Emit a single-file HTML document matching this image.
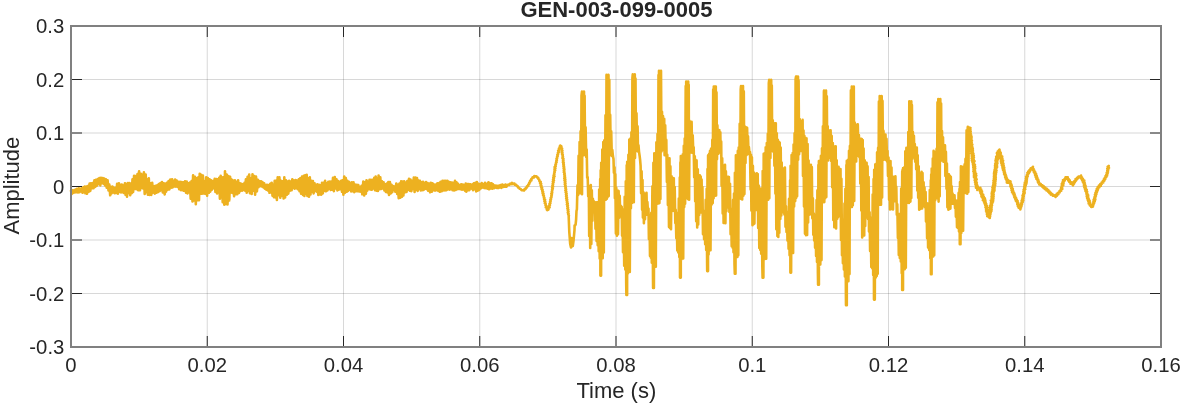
<!DOCTYPE html>
<html><head><meta charset="utf-8"><title>GEN-003-099-0005</title>
<style>html,body{margin:0;padding:0;background:#fff}body{width:1182px;height:404px;overflow:hidden}</style></head>
<body>
<svg width="1182" height="404" viewBox="0 0 1182 404" style="display:block">
<rect x="0" y="0" width="1182" height="404" fill="#fff"/>
<path d="M207.25 26 V347 M343.50 26 V347 M479.75 26 V347 M616.00 26 V347 M752.25 26 V347 M888.50 26 V347 M1024.75 26 V347" stroke="#262626" stroke-opacity="0.18" stroke-width="1" fill="none"/>
<path d="M71 79.50 H1161 M71 133.00 H1161 M71 186.50 H1161 M71 240.00 H1161 M71 293.50 H1161" stroke="#262626" stroke-opacity="0.18" stroke-width="1" fill="none"/>
<path d="M71.0 190.8 L71.7 193.9 L72.4 190.2 L73.1 192.9 L73.9 190.4 L74.7 192.5 L75.4 189.6 L76.3 192.2 L77.0 188.9 L77.9 192.4 L78.7 188.3 L79.4 192.3 L80.1 188.7 L80.8 191.5 L81.7 188.3 L82.5 192.7 L83.3 187.3 L83.9 192.2 L84.7 186.6 L85.4 193.3 L86.3 186.6 L87.0 193.8 L87.9 186.0 L88.7 191.8 L89.6 183.6 L90.3 191.0 L91.0 183.4 L91.9 188.3 L92.7 183.1 L93.5 188.3 L94.4 180.4 L95.1 186.9 L95.9 179.7 L96.7 185.9 L97.7 179.1 L98.5 184.1 L99.4 178.0 L100.3 185.4 L101.0 177.9 L101.9 183.3 L102.7 178.0 L103.4 183.7 L104.2 178.6 L105.0 185.4 L105.9 179.2 L106.7 187.7 L107.6 180.3 L108.5 190.5 L109.3 184.5 L110.2 195.3 L110.9 187.1 L111.6 193.4 L112.4 186.6 L113.1 192.4 L113.9 187.7 L114.7 193.3 L115.6 187.8 L116.4 193.0 L117.1 183.9 L118.0 193.7 L118.9 183.2 L119.6 191.8 L120.5 185.0 L121.1 192.5 L121.8 184.5 L122.5 192.1 L123.2 185.5 L123.9 193.0 L124.9 183.3 L125.6 194.8 L126.3 184.0 L127.0 196.7 L127.9 183.0 L128.7 192.9 L129.4 183.0 L130.2 195.1 L130.8 183.9 L131.8 193.1 L132.5 179.3 L133.1 191.9 L134.1 175.7 L134.9 188.9 L135.7 176.1 L136.6 189.1 L137.5 174.1 L138.2 190.3 L139.1 171.3 L140.0 190.3 L140.9 173.8 L141.7 188.0 L142.4 174.7 L143.1 188.5 L143.9 172.4 L144.7 193.9 L145.7 174.6 L146.4 192.3 L147.2 179.5 L147.9 194.8 L148.8 178.3 L149.6 195.0 L150.5 183.4 L151.3 195.0 L152.2 182.8 L153.0 192.6 L153.9 186.3 L154.8 193.6 L155.5 185.9 L156.5 192.7 L157.2 185.3 L157.9 192.1 L158.8 184.0 L159.7 191.2 L160.5 183.0 L161.3 190.3 L162.0 182.0 L162.8 192.5 L163.8 183.4 L164.7 194.5 L165.4 183.9 L166.1 191.6 L166.9 182.7 L167.7 189.7 L168.6 181.1 L169.4 189.5 L170.3 179.6 L171.3 187.7 L172.1 179.2 L172.7 187.4 L173.4 181.0 L174.3 186.5 L175.1 179.6 L175.9 186.7 L176.7 180.6 L177.6 186.9 L178.5 181.9 L179.2 189.2 L180.0 181.7 L180.9 190.1 L181.6 182.0 L182.4 190.2 L183.3 182.3 L184.1 190.8 L185.0 181.3 L186.0 192.6 L186.7 181.6 L187.6 193.4 L188.3 183.2 L189.1 192.3 L189.8 182.6 L190.7 198.6 L191.6 181.1 L192.5 201.5 L193.1 175.2 L194.1 200.4 L195.0 176.9 L195.8 204.1 L196.7 178.3 L197.5 200.1 L198.3 177.3 L199.0 200.2 L199.7 173.9 L200.4 193.6 L201.2 174.7 L202.0 193.6 L202.9 175.5 L203.9 193.5 L204.6 181.5 L205.5 193.8 L206.2 177.4 L207.1 195.6 L207.8 178.0 L208.8 192.8 L209.6 179.4 L210.3 191.7 L211.1 180.3 L212.0 189.6 L212.9 181.0 L213.8 188.3 L214.7 178.9 L215.4 191.9 L216.4 179.0 L217.1 193.5 L217.8 179.4 L218.5 192.1 L219.2 177.7 L219.9 198.6 L220.7 175.7 L221.4 197.3 L222.0 177.3 L222.7 202.3 L223.5 177.4 L224.3 204.7 L225.0 171.2 L225.8 204.0 L226.7 174.5 L227.5 204.5 L228.4 176.1 L229.3 200.4 L230.1 176.7 L230.9 192.4 L231.6 179.6 L232.5 192.9 L233.2 180.5 L234.1 196.3 L234.9 180.4 L235.6 194.3 L236.4 182.0 L237.2 194.3 L238.1 180.2 L239.0 192.9 L239.9 183.3 L240.7 190.9 L241.4 183.7 L242.2 190.6 L243.0 184.3 L243.8 190.0 L244.5 182.8 L245.2 190.7 L245.9 179.3 L246.7 192.6 L247.6 176.7 L248.5 190.9 L249.2 174.5 L249.9 193.3 L250.8 178.2 L251.7 194.0 L252.5 174.3 L253.4 190.7 L254.2 176.0 L255.1 194.6 L256.0 176.5 L256.9 191.5 L257.8 179.7 L258.4 187.3 L259.2 181.0 L260.1 186.1 L260.9 181.3 L261.8 186.4 L262.4 182.0 L263.3 187.4 L264.1 183.2 L264.8 188.7 L265.5 185.0 L266.2 189.6 L267.0 184.9 L267.9 190.5 L268.7 185.0 L269.5 192.8 L270.3 183.9 L271.0 192.5 L271.7 182.9 L272.5 195.6 L273.1 185.0 L273.9 197.1 L274.7 180.7 L275.5 197.5 L276.3 180.5 L276.9 200.0 L277.7 177.4 L278.6 195.3 L279.4 177.3 L280.3 197.8 L281.0 180.9 L282.0 195.7 L282.8 181.3 L283.6 198.5 L284.3 177.3 L285.1 197.5 L286.0 180.4 L286.9 194.8 L287.5 181.5 L288.3 193.6 L289.1 180.8 L289.8 191.0 L290.7 181.5 L291.6 190.3 L292.3 179.4 L293.2 188.0 L293.9 180.6 L294.7 188.7 L295.5 180.0 L296.3 188.3 L296.9 180.5 L297.8 189.2 L298.8 179.4 L299.5 191.2 L300.2 178.3 L301.1 193.6 L302.0 176.6 L303.0 194.9 L303.8 175.7 L304.4 195.9 L305.2 175.2 L306.1 194.1 L306.7 174.8 L307.4 196.0 L308.2 178.4 L309.0 196.6 L309.8 177.3 L310.5 194.4 L311.3 180.9 L312.0 191.8 L312.9 181.1 L313.6 193.4 L314.6 183.3 L315.3 190.9 L315.9 185.2 L316.6 191.6 L317.3 184.4 L318.3 195.0 L319.0 184.7 L319.8 194.5 L320.6 185.3 L321.3 194.7 L322.0 182.9 L322.8 193.4 L323.6 182.9 L324.3 191.0 L325.1 180.9 L326.0 191.3 L326.6 183.2 L327.5 190.5 L328.3 181.8 L328.9 188.9 L329.9 181.5 L330.8 190.0 L331.5 181.6 L332.2 189.8 L333.0 177.8 L333.9 191.1 L334.8 177.1 L335.6 188.4 L336.5 179.3 L337.4 190.4 L338.2 181.0 L338.9 189.7 L339.7 182.1 L340.4 189.3 L341.2 180.9 L342.0 191.8 L342.6 180.3 L343.4 194.7 L344.2 176.6 L345.0 192.8 L345.8 178.0 L346.6 191.8 L347.3 180.8 L348.1 190.9 L348.9 181.9 L349.8 189.8 L350.4 183.1 L351.2 191.4 L351.9 182.2 L352.8 191.1 L353.5 182.4 L354.3 192.1 L355.0 184.5 L355.9 191.1 L356.8 184.7 L357.5 191.3 L358.3 185.1 L359.2 191.5 L360.0 187.0 L360.9 191.8 L361.6 185.9 L362.3 194.3 L363.3 181.5 L364.2 195.4 L365.0 182.4 L365.9 193.7 L366.5 180.2 L367.3 190.7 L368.1 181.9 L368.7 189.0 L369.5 179.9 L370.2 189.5 L370.9 179.9 L371.8 189.8 L372.5 179.7 L373.3 188.5 L374.3 177.7 L375.0 190.3 L375.7 176.5 L376.6 190.7 L377.2 178.5 L377.9 190.9 L378.6 175.5 L379.6 189.3 L380.3 177.3 L381.1 189.0 L382.0 181.3 L382.7 188.4 L383.6 182.3 L384.4 190.4 L385.1 184.3 L385.9 191.9 L386.8 183.6 L387.5 192.4 L388.3 182.0 L389.0 195.0 L389.9 182.0 L390.8 193.5 L391.5 184.9 L392.3 192.1 L393.0 186.1 L393.9 189.7 L394.5 186.6 L395.3 191.7 L396.3 183.5 L397.2 194.0 L397.9 184.9 L398.7 198.2 L399.5 183.6 L400.3 197.6 L401.1 181.2 L402.0 196.8 L402.7 181.5 L403.4 195.5 L404.2 181.3 L404.9 192.5 L405.6 182.9 L406.6 192.0 L407.3 181.0 L408.3 189.8 L409.0 178.9 L409.8 190.6 L410.5 179.5 L411.4 191.1 L412.3 180.8 L413.1 189.0 L413.8 177.5 L414.6 192.0 L415.4 177.5 L416.1 189.7 L417.0 178.1 L417.7 190.9 L418.5 180.6 L419.3 189.0 L420.0 180.9 L420.8 190.5 L421.5 182.3 L422.3 190.1 L423.0 181.9 L423.7 189.9 L424.5 183.1 L425.2 188.7 L426.0 182.1 L426.7 189.2 L427.6 183.0 L428.3 190.8 L429.2 183.7 L430.1 192.3 L430.8 182.7 L431.8 191.8 L432.5 183.3 L433.2 190.3 L434.1 184.6 L435.0 190.6 L435.9 184.6 L436.6 190.1 L437.4 183.2 L438.4 191.0 L439.2 183.1 L440.0 191.8 L440.7 181.7 L441.7 191.3 L442.5 180.8 L443.4 190.5 L444.1 180.8 L445.0 190.4 L445.7 180.8 L446.5 190.1 L447.3 180.8 L448.0 189.4 L448.7 181.7 L449.6 189.7 L450.3 182.2 L451.1 189.3 L451.9 182.5 L452.6 190.1 L453.5 182.8 L454.3 190.5 L455.0 180.9 L455.7 190.0 L456.5 182.3 L457.2 189.3 L458.1 183.8 L458.9 189.0 L459.7 185.5 L460.5 189.2 L461.2 184.2 L462.1 189.7 L462.8 184.5 L463.5 189.5 L464.3 185.1 L465.1 190.9 L465.7 183.6 L466.4 191.6 L467.3 184.1 L468.0 190.3 L468.7 184.0 L469.4 190.1 L470.4 184.4 L471.3 188.6 L472.2 184.5 L473.1 190.2 L473.8 183.4 L474.8 189.3 L475.5 182.7 L476.2 191.5 L476.9 182.1 L477.6 190.8 L478.6 183.7 L479.3 189.9 L480.0 184.2 L480.7 188.4 L481.7 183.1 L482.6 187.6 L483.5 184.2 L484.3 188.1 L485.0 182.9 L485.9 188.3 L486.8 183.8 L487.7 188.8 L488.5 182.2 L489.2 189.3 L490.0 183.2 L490.9 188.5 L491.6 183.3 L492.3 188.8 L493.0 184.3 L494.0 188.3 L494.8 185.6 L495.5 187.6 L496.2 185.7 L496.9 187.9 L497.9 185.8 L498.6 188.0 L499.2 185.6 L500.0 187.4 L500.7 185.1 L501.6 187.8 L502.3 184.6 L503.1 187.0 L504.0 185.0 L504.7 186.7 L505.5 184.5 L506.4 186.7 L506.9 185.9 L507.6 184.8 L509.0 185.0 L509.7 183.9 L511.0 184.1 L511.9 182.9 L512.9 184.1 L514.5 183.6 L514.9 184.8 L516.2 184.7 L516.6 185.8 L517.7 186.2 L518.0 187.4 L519.1 187.7 L519.6 188.8 L520.7 189.0 L521.6 190.2 L522.7 190.3 L524.0 190.5 L524.4 189.3 L525.6 189.1 L525.7 187.9 L526.9 187.5 L526.9 186.2 L528.3 185.9 L528.2 184.6 L529.2 184.0 L529.2 182.8 L530.1 182.1 L530.1 180.8 L531.4 180.4 L531.2 179.0 L532.2 178.4 L532.6 177.3 L534.0 177.4 L534.3 176.1 L535.0 176.2 L536.4 176.2 L537.0 177.3 L538.2 177.7 L538.3 178.9 L539.3 179.8 L539.4 181.1 L540.7 181.9 L540.1 183.1 L541.2 183.8 L540.6 185.1 L541.5 185.9 L541.1 187.0 L542.1 187.8 L541.5 189.0 L542.6 189.8 L542.2 191.0 L543.1 191.8 L542.5 193.0 L543.5 193.8 L543.0 195.0 L543.9 195.8 L543.7 196.9 L544.4 197.8 L544.0 199.0 L545.1 199.8 L544.4 201.1 L545.4 202.0 L544.8 203.2 L545.8 204.0 L545.5 205.2 L546.5 206.1 L545.8 207.4 L547.1 208.1 L546.8 209.5 L547.2 210.2 L548.5 209.5 L548.2 208.1 L549.6 207.3 L548.9 206.1 L549.9 205.2 L549.4 204.0 L550.4 203.2 L550.0 202.0 L550.7 201.0 L550.3 199.9 L551.1 199.0 L550.7 197.8 L551.6 196.9 L551.3 195.8 L551.9 194.8 L551.3 193.7 L552.2 192.8 L551.8 191.7 L552.3 190.7 L552.1 189.6 L552.8 188.7 L552.1 187.6 L553.1 186.6 L552.4 185.5 L553.1 184.6 L552.7 183.5 L553.5 182.5 L552.8 181.4 L553.9 180.5 L553.1 179.4 L553.9 178.4 L553.3 177.3 L554.5 176.4 L553.6 175.3 L554.4 174.3 L554.1 173.2 L554.7 172.3 L554.4 171.2 L555.2 170.3 L554.4 169.1 L555.4 168.2 L554.6 167.0 L555.7 166.2 L555.3 165.0 L556.0 164.1 L555.8 163.0 L556.6 162.1 L556.2 161.0 L556.9 160.1 L556.5 158.9 L557.2 158.0 L557.0 156.9 L557.8 156.0 L557.3 154.8 L558.2 153.9 L557.9 152.8 L558.9 152.0 L558.2 150.7 L559.3 150.0 L558.9 148.5 L559.9 147.6 L559.8 146.3 L560.2 145.5 L561.4 146.3 L561.0 147.7 L562.1 148.6 L561.7 149.8 L562.4 150.8 L561.7 151.9 L562.5 152.8 L562.0 153.9 L562.8 154.9 L562.5 155.9 L563.0 156.9 L562.4 158.0 L563.5 158.9 L562.9 160.0 L563.5 161.0 L562.9 162.1 L563.8 163.0 L563.2 164.1 L563.9 165.1 L563.4 166.1 L564.2 167.1 L563.6 168.2 L564.5 169.1 L563.8 170.2 L564.4 171.1 L563.8 172.2 L564.7 173.1 L564.2 174.2 L564.9 175.2 L564.4 176.2 L565.1 177.2 L564.3 178.3 L565.3 179.2 L564.5 180.3 L565.4 181.2 L564.8 182.3 L565.5 183.2 L564.8 184.3 L565.6 185.3 L565.0 186.3 L565.8 187.3 L565.4 188.3 L566.1 189.3 L565.4 190.4 L566.3 191.3 L565.7 192.4 L566.6 193.3 L566.0 194.4 L566.7 195.3 L566.1 196.4 L567.0 197.3 L566.2 198.5 L567.2 199.4 L566.6 200.5 L567.3 201.4 L566.9 202.5 L567.7 203.4 L566.9 204.5 L567.9 205.4 L567.3 206.5 L568.0 207.5 L567.4 208.6 L568.3 209.5 L567.8 210.6 L568.5 211.5 L567.8 212.6 L568.6 213.6 L568.2 214.6 L568.9 215.6 L568.7 216.6 L569.3 232.0 L570.2 244.0 L571.0 247.5 L572.0 246.0 L571.5 238.0 L572.8 246.0 L573.6 240.0 L574.5 230.0 L574.6 225.5 L575.2 225.2 L575.6 224.6 L576.1 219.5 L576.5 211.0 L576.9 209.2 L577.5 185.3 L578.1 195.0 L578.6 155.7 L579.1 191.4 L579.6 142.1 L580.1 193.3 L580.6 131.2 L581.0 192.4 L581.5 95.5 L582.0 91.5 L582.0 194.2 L582.5 91.9 L583.0 155.4 L583.6 94.2 L584.0 91.5 L584.1 154.9 L584.6 95.8 L585.1 154.5 L585.6 127.3 L586.2 157.0 L586.7 149.5 L587.2 177.8 L587.7 177.0 L588.2 196.3 L588.8 186.0 L589.2 236.1 L589.7 186.4 L590.2 247.9 L590.8 185.1 L591.3 244.0 L591.8 190.3 L592.4 220.7 L592.9 198.8 L593.4 210.9 L593.9 201.4 L594.5 212.1 L595.0 202.7 L595.5 228.6 L596.0 202.4 L596.6 241.1 L597.2 202.4 L597.7 245.3 L598.3 202.2 L598.7 251.2 L599.2 189.5 L599.7 258.5 L600.2 179.0 L600.4 275.6 L600.7 170.3 L601.1 275.6 L601.2 162.8 L601.7 258.2 L602.3 149.5 L602.7 258.2 L603.3 142.0 L603.8 252.4 L604.3 140.3 L604.9 200.0 L605.5 115.3 L606.0 199.6 L606.5 76.5 L606.5 74.9 L606.9 198.8 L607.4 77.5 L607.8 196.8 L608.3 76.2 L608.5 74.9 L608.7 196.1 L609.3 79.7 L609.7 155.0 L610.2 114.9 L610.7 153.9 L611.2 131.3 L611.8 156.0 L612.3 150.0 L612.9 156.1 L613.5 159.1 L613.9 172.6 L614.5 167.2 L614.9 198.2 L615.3 174.3 L615.9 233.6 L616.3 187.8 L616.9 235.8 L617.5 190.6 L618.0 234.3 L618.6 191.1 L619.2 217.7 L619.7 195.8 L620.2 214.9 L620.8 205.8 L621.3 215.6 L621.7 206.7 L622.1 235.8 L622.5 210.7 L623.0 252.3 L623.6 209.3 L624.2 265.7 L624.7 196.7 L625.3 269.6 L625.8 181.4 L626.2 283.1 L626.4 294.9 L626.7 165.2 L627.1 294.9 L627.2 161.8 L627.8 273.5 L628.4 154.8 L628.9 270.2 L629.3 139.6 L629.8 271.9 L630.4 138.6 L630.9 208.2 L631.4 132.2 L631.9 203.0 L632.4 78.2 L632.8 74.2 L632.9 201.3 L633.4 75.7 L633.8 202.3 L634.4 76.2 L634.8 74.2 L635.0 158.0 L635.5 78.6 L636.0 151.0 L636.5 113.3 L637.1 148.7 L637.6 126.4 L638.0 151.4 L638.5 145.3 L639.0 151.6 L639.6 155.7 L640.1 159.9 L640.6 165.8 L641.1 193.3 L641.6 171.3 L642.1 209.7 L642.5 180.1 L642.9 217.6 L643.5 192.2 L643.9 223.2 L644.5 194.3 L645.0 219.2 L645.4 193.6 L645.9 213.2 L646.5 192.8 L647.0 214.7 L647.4 202.1 L648.0 212.6 L648.5 208.5 L648.9 239.1 L649.5 215.7 L650.0 255.9 L650.4 214.7 L650.9 257.8 L651.3 212.8 L651.8 262.7 L652.4 186.4 L653.0 278.4 L653.1 288.0 L653.4 162.7 L653.8 282.1 L653.9 288.0 L654.3 153.2 L654.8 266.5 L655.4 155.3 L655.8 266.7 L656.4 142.2 L656.9 203.3 L657.5 134.1 L657.9 203.6 L658.5 75.0 L658.9 202.7 L659.0 70.7 L659.4 203.1 L660.0 72.2 L660.4 198.9 L660.9 72.0 L661.0 70.7 L661.5 151.5 L662.0 111.8 L662.6 150.1 L663.0 116.1 L663.6 149.2 L664.2 118.8 L664.6 155.2 L665.2 125.2 L665.8 154.4 L666.3 139.9 L666.9 181.9 L667.3 154.7 L667.9 205.0 L668.4 160.1 L669.0 226.9 L669.5 158.3 L669.9 228.0 L670.4 166.4 L671.0 229.2 L671.6 176.3 L672.2 211.0 L672.6 177.9 L673.2 210.7 L673.8 178.2 L674.2 211.1 L674.7 187.0 L675.3 223.1 L675.7 209.9 L676.3 238.1 L676.7 213.4 L677.3 250.4 L677.7 212.9 L678.3 252.5 L678.8 198.5 L679.3 257.1 L679.8 177.5 L680.0 277.6 L680.4 162.4 L680.8 277.6 L680.8 156.1 L681.3 259.5 L681.9 156.8 L682.4 258.3 L682.8 154.4 L683.2 258.4 L683.8 145.8 L684.2 207.1 L684.7 138.5 L685.1 203.8 L685.7 86.1 L686.2 198.3 L686.2 81.6 L686.6 197.6 L687.1 84.4 L687.7 197.5 L688.2 81.6 L688.2 199.2 L688.7 84.7 L689.1 199.8 L689.5 120.7 L690.1 152.5 L690.7 123.4 L691.1 151.7 L691.6 121.7 L692.1 152.7 L692.7 135.4 L693.3 152.5 L693.7 147.4 L694.2 177.3 L694.8 156.3 L695.2 201.2 L695.6 159.8 L696.2 221.3 L696.6 160.4 L697.2 227.5 L697.8 169.3 L698.2 224.5 L698.8 176.8 L699.2 214.9 L699.8 175.3 L700.3 212.3 L700.7 176.5 L701.1 212.4 L701.6 179.6 L702.0 210.9 L702.4 187.1 L703.0 234.3 L703.6 213.1 L704.1 239.2 L704.6 210.8 L705.2 244.3 L705.7 199.8 L706.2 249.9 L706.7 188.8 L707.1 262.7 L707.2 271.1 L707.5 169.1 L708.0 271.1 L708.1 155.4 L708.6 254.4 L709.1 153.9 L709.6 250.5 L710.0 150.9 L710.5 250.3 L711.1 148.6 L711.7 204.4 L712.3 139.9 L712.7 203.1 L713.2 89.5 L713.6 198.2 L713.8 86.5 L714.2 195.4 L714.8 86.8 L715.3 195.7 L715.7 88.7 L715.8 86.5 L716.1 195.5 L716.5 92.4 L717.0 159.3 L717.4 125.4 L717.9 154.0 L718.4 129.7 L718.8 152.2 L719.3 130.1 L719.8 151.8 L720.3 132.3 L720.7 153.7 L721.2 141.6 L721.6 185.8 L722.2 158.3 L722.7 213.5 L723.1 165.4 L723.6 223.0 L724.0 165.6 L724.5 222.6 L725.0 164.7 L725.4 223.2 L725.9 171.4 L726.4 211.2 L726.9 177.1 L727.4 207.6 L727.9 176.8 L728.4 207.4 L728.9 177.1 L729.4 212.0 L730.0 183.7 L730.6 234.3 L731.1 208.9 L731.7 246.2 L732.2 210.3 L732.7 247.7 L733.1 199.9 L733.5 252.3 L734.0 193.5 L734.5 264.2 L734.8 273.8 L734.9 172.7 L735.4 270.6 L735.5 273.8 L735.9 155.3 L736.4 255.0 L736.8 156.2 L737.4 256.9 L737.8 150.9 L738.3 255.2 L738.7 147.6 L739.2 198.7 L739.7 123.8 L740.2 197.9 L740.7 89.7 L741.0 86.1 L741.3 198.9 L741.7 88.6 L742.2 199.4 L742.8 88.4 L743.0 86.1 L743.3 195.8 L743.8 91.4 L744.4 194.1 L744.9 126.5 L745.5 162.9 L746.0 127.4 L746.6 155.1 L747.1 127.8 L747.6 152.4 L748.0 136.3 L748.5 153.9 L748.9 147.0 L749.5 153.7 L750.0 152.0 L750.6 189.4 L751.0 154.7 L751.4 210.6 L751.9 157.3 L752.5 225.3 L752.9 165.9 L753.4 224.3 L753.9 172.5 L754.4 223.6 L754.9 175.2 L755.4 209.5 L755.9 173.9 L756.3 210.0 L756.8 173.2 L757.2 209.5 L757.7 174.1 L758.2 228.0 L758.7 185.5 L759.3 247.9 L759.8 188.9 L760.3 250.0 L760.8 188.6 L761.2 253.8 L761.7 188.8 L762.3 266.1 L762.6 277.6 L762.7 171.1 L763.2 275.9 L763.4 277.6 L763.7 153.8 L764.3 259.3 L764.8 153.4 L765.2 257.4 L765.7 147.2 L766.2 258.7 L766.8 143.1 L767.2 199.1 L767.8 133.7 L768.2 199.7 L768.8 83.2 L769.2 79.9 L769.3 198.3 L769.8 82.1 L770.4 157.9 L770.9 82.3 L771.2 79.9 L771.4 151.1 L771.8 85.5 L772.2 151.0 L772.8 120.4 L773.4 151.6 L773.8 124.4 L774.4 165.7 L774.9 123.4 L775.4 193.6 L775.8 123.2 L776.3 229.2 L776.8 133.2 L777.4 235.9 L777.9 139.9 L778.3 237.0 L778.8 141.7 L779.3 232.7 L779.7 142.5 L780.3 218.9 L780.7 147.5 L781.3 215.5 L781.7 162.5 L782.2 211.1 L782.8 168.2 L783.4 212.3 L783.9 168.6 L784.4 214.5 L784.9 167.6 L785.5 226.7 L786.0 206.2 L786.5 232.0 L787.0 212.2 L787.5 240.6 L788.0 211.8 L788.6 248.8 L789.0 198.9 L789.6 255.2 L790.1 180.3 L790.4 272.6 L790.6 165.8 L791.0 266.8 L791.1 272.6 L791.6 155.0 L792.2 252.9 L792.7 153.0 L793.1 252.9 L793.6 144.5 L794.1 206.5 L794.6 133.3 L795.2 201.1 L795.6 79.3 L796.0 76.6 L796.1 197.9 L796.7 76.6 L797.1 196.3 L797.7 78.6 L798.0 76.6 L798.1 159.7 L798.6 80.4 L799.1 154.3 L799.7 119.1 L800.2 151.0 L800.7 121.8 L801.1 151.0 L801.5 121.1 L802.1 149.5 L802.6 119.9 L803.0 176.1 L803.5 130.6 L804.0 206.6 L804.4 135.8 L805.0 233.8 L805.5 137.8 L806.0 235.3 L806.5 138.2 L807.1 235.0 L807.6 144.1 L808.1 222.4 L808.6 160.5 L809.2 214.8 L809.7 165.9 L810.3 214.3 L810.9 164.8 L811.3 213.7 L811.8 167.0 L812.3 218.3 L812.9 198.4 L813.3 234.8 L813.8 213.6 L814.2 240.5 L814.7 216.2 L815.1 247.7 L815.6 215.0 L816.1 256.0 L816.6 200.0 L817.0 261.9 L817.4 190.4 L817.9 273.6 L818.1 284.7 L818.4 165.0 L818.9 284.7 L818.9 161.0 L819.3 265.1 L819.9 160.9 L820.3 264.5 L820.9 155.9 L821.5 260.1 L822.0 148.2 L822.5 202.6 L822.9 126.2 L823.4 201.2 L823.9 92.0 L824.0 90.5 L824.3 202.1 L824.8 93.1 L825.2 198.3 L825.7 91.3 L826.0 90.5 L826.3 197.0 L826.8 96.2 L827.3 160.6 L827.7 126.2 L828.2 160.5 L828.8 130.3 L829.3 157.5 L829.8 130.8 L830.2 157.7 L830.6 130.3 L831.2 161.0 L831.7 135.9 L832.2 187.3 L832.8 143.1 L833.3 220.0 L833.8 146.4 L834.3 227.2 L834.8 146.5 L835.2 225.9 L835.7 146.3 L836.1 228.4 L836.7 160.3 L837.3 218.7 L837.7 167.0 L838.1 217.0 L838.6 166.9 L839.1 215.9 L839.5 169.3 L840.0 215.7 L840.5 169.1 L841.0 240.0 L841.4 178.8 L842.0 255.3 L842.4 221.7 L842.9 263.3 L843.3 219.5 L843.9 269.6 L844.5 203.6 L844.9 276.4 L845.4 188.8 L845.9 293.6 L846.0 305.3 L846.4 165.1 L846.8 305.3 L846.8 160.7 L847.4 280.8 L847.9 159.8 L848.4 281.3 L849.0 150.8 L849.5 274.1 L849.9 145.9 L850.3 206.4 L850.9 90.3 L851.4 205.6 L851.8 86.5 L851.9 206.9 L852.4 86.7 L852.8 205.2 L853.3 87.4 L853.7 199.8 L853.8 86.5 L854.2 201.0 L854.7 122.5 L855.2 159.0 L855.6 124.7 L856.2 161.4 L856.7 124.9 L857.3 155.8 L857.8 124.4 L858.4 155.7 L858.9 135.1 L859.4 157.1 L859.9 139.2 L860.3 183.4 L860.8 138.8 L861.3 210.5 L861.8 139.1 L862.2 237.5 L862.7 140.0 L863.1 235.4 L863.6 148.6 L864.2 235.4 L864.7 160.2 L865.2 226.0 L865.6 162.6 L866.0 216.4 L866.6 162.8 L867.1 217.2 L867.6 166.4 L868.0 219.1 L868.6 177.1 L869.0 231.6 L869.6 212.3 L870.1 251.1 L870.7 217.5 L871.3 267.0 L871.7 217.5 L872.2 268.3 L872.7 194.5 L873.2 274.9 L873.6 179.0 L874.0 299.6 L874.2 169.7 L874.7 292.8 L874.8 299.6 L875.3 164.2 L875.8 277.5 L876.3 163.9 L876.7 275.9 L877.1 152.3 L877.7 273.8 L878.1 147.7 L878.5 203.5 L878.9 101.5 L879.5 203.3 L879.7 96.0 L880.0 204.8 L880.5 97.5 L881.0 204.7 L881.5 98.0 L881.7 96.0 L882.1 197.5 L882.5 100.9 L883.0 158.9 L883.5 130.9 L883.9 159.6 L884.4 134.7 L885.0 158.0 L885.5 134.6 L886.1 160.0 L886.5 138.7 L887.0 161.5 L887.5 151.0 L888.0 176.0 L888.5 157.6 L889.1 199.8 L889.5 162.0 L890.0 209.5 L890.5 161.1 L891.0 208.2 L891.5 167.6 L892.0 209.1 L892.4 177.1 L893.0 209.4 L893.5 176.8 L893.9 200.3 L894.4 177.5 L894.9 201.2 L895.4 176.4 L895.9 200.1 L896.3 186.9 L896.8 214.7 L897.3 204.2 L897.9 238.0 L898.3 215.8 L898.8 255.0 L899.4 214.0 L899.8 258.0 L900.4 215.1 L900.8 261.6 L901.2 188.5 L901.7 273.3 L902.2 171.4 L902.2 289.9 L902.6 169.7 L903.0 289.9 L903.1 168.1 L903.7 267.8 L904.2 167.4 L904.7 269.2 L905.3 151.3 L905.8 267.7 L906.4 147.8 L906.9 203.0 L907.5 149.2 L907.9 201.5 L908.3 132.1 L908.9 203.0 L909.3 101.4 L909.4 201.3 L909.9 102.0 L910.4 201.6 L910.9 101.7 L911.3 101.4 L911.3 198.1 L911.9 105.0 L912.4 158.7 L912.9 132.0 L913.3 156.9 L913.9 135.9 L914.4 157.0 L914.8 144.0 L915.2 161.7 L915.8 147.9 L916.2 169.3 L916.8 147.5 L917.3 190.6 L917.7 155.2 L918.2 197.8 L918.7 166.3 L919.2 209.8 L919.7 173.5 L920.2 208.9 L920.6 173.2 L921.1 208.2 L921.6 171.8 L922.1 208.4 L922.5 173.0 L923.1 206.2 L923.6 182.2 L924.0 205.5 L924.5 187.5 L925.0 207.1 L925.6 192.1 L926.0 221.6 L926.6 203.2 L927.1 238.3 L927.7 203.5 L928.1 247.6 L928.7 205.3 L929.2 250.1 L929.8 190.1 L930.3 258.2 L930.8 180.2 L930.9 274.2 L931.2 174.6 L931.6 274.2 L931.7 168.5 L932.3 256.2 L932.8 158.5 L933.2 256.4 L933.6 150.9 L934.2 255.2 L934.7 152.6 L935.2 200.2 L935.6 151.8 L936.0 198.2 L936.6 148.9 L937.0 197.7 L937.5 102.3 L938.0 198.8 L938.3 99.1 L938.6 201.6 L939.1 100.4 L939.7 196.2 L940.2 101.8 L940.3 99.1 L940.7 161.0 L941.1 103.6 L941.5 159.7 L942.0 131.0 L942.4 160.0 L943.0 137.3 L943.4 161.7 L944.0 145.7 L944.4 161.5 L945.0 145.4 L945.4 176.0 L945.9 151.8 L946.5 188.7 L946.9 163.6 L947.4 207.3 L947.9 174.2 L948.4 209.8 L948.9 174.2 L949.4 209.0 L949.9 175.8 L950.4 208.6 L950.8 176.8 L951.3 201.6 L951.7 186.2 L952.2 203.6 L952.6 193.6 L953.1 202.5 L953.5 195.9 L954.0 203.9 L954.5 195.4 L955.0 208.0 L955.5 200.2 L955.9 216.6 L956.5 201.5 L957.0 227.3 L957.6 200.5 L958.0 228.0 L958.6 192.9 L959.0 231.5 L959.5 188.7 L959.8 244.3 L960.0 182.0 L960.4 239.9 L960.5 244.3 L960.9 166.4 L961.3 233.0 L961.8 168.2 L962.2 230.1 L962.7 166.9 L963.1 230.7 L963.7 166.9 L964.1 193.2 L964.6 164.4 L965.1 192.0 L965.5 158.9 L966.0 192.9 L966.6 130.2 L967.2 193.8 L967.7 128.1 L967.8 126.9 L968.3 192.0 L968.8 128.1 L968.1 127.2 L970.5 127.9 L968.8 128.9 L970.4 129.7 L969.0 130.8 L970.7 131.5 L969.2 132.6 L970.7 133.4 L968.9 134.5 L971.2 135.2 L969.5 136.3 L971.6 137.0 L969.7 138.1 L971.5 138.9 L969.9 140.0 L971.9 140.7 L969.6 142.0 L971.7 142.7 L969.9 143.8 L972.3 144.5 L970.5 145.7 L972.2 146.5 L970.6 147.6 L972.8 148.3 L971.1 149.5 L972.9 150.2 L971.0 151.4 L973.0 152.2 L971.2 153.3 L973.5 153.9 L971.7 155.1 L973.8 155.7 L971.8 156.9 L973.9 157.5 L971.7 158.7 L973.7 159.4 L971.9 160.5 L974.5 161.1 L972.5 162.3 L974.0 163.0 L972.9 164.1 L974.9 164.7 L973.2 165.8 L975.1 166.5 L973.3 167.7 L975.2 168.3 L973.6 169.5 L975.0 170.2 L973.4 171.3 L975.2 172.0 L973.9 173.1 L976.1 173.7 L973.9 175.0 L976.3 175.6 L973.9 176.8 L975.9 177.5 L974.7 178.6 L976.7 179.2 L974.7 180.4 L976.4 181.1 L975.1 182.2 L976.8 182.9 L975.4 184.1 L977.0 184.8 L975.9 185.8 L977.9 186.5 L976.0 187.7 L978.1 188.3 L977.3 190.0 L977.4 188.2 L979.0 189.2 L980.3 187.8 L979.2 189.3 L981.2 189.5 L979.9 191.1 L982.0 191.3 L980.4 192.9 L982.2 193.2 L981.2 194.6 L983.2 194.9 L981.5 196.6 L983.8 196.8 L982.7 198.2 L984.9 198.4 L982.9 200.2 L985.4 200.3 L984.0 201.8 L985.7 202.2 L984.6 203.6 L986.3 204.1 L985.3 205.3 L987.0 205.9 L985.5 207.2 L987.5 207.7 L986.0 209.0 L987.5 209.6 L986.1 210.9 L988.4 211.3 L986.7 212.6 L988.8 213.1 L987.0 214.5 L989.5 214.8 L987.3 216.3 L989.8 216.7 L989.8 218.0 L988.3 216.8 L990.1 216.2 L988.1 214.9 L990.4 214.4 L988.9 213.2 L990.8 212.6 L989.4 211.4 L991.5 210.8 L989.9 209.6 L991.6 209.0 L989.5 207.7 L991.6 207.1 L990.1 205.9 L992.0 205.3 L990.7 204.2 L992.2 203.4 L991.0 202.3 L993.0 201.7 L990.8 200.4 L993.3 199.9 L991.6 198.7 L993.4 198.0 L991.6 196.8 L993.6 196.2 L991.7 195.0 L993.6 194.3 L991.7 193.1 L993.6 192.5 L992.1 191.3 L994.5 190.7 L992.5 189.5 L994.6 188.9 L992.4 187.7 L994.6 187.0 L992.9 185.9 L995.2 185.2 L993.3 184.1 L995.3 183.4 L993.5 182.3 L995.4 181.5 L993.5 180.4 L995.7 179.7 L993.9 178.6 L995.8 177.9 L993.9 176.8 L995.7 176.0 L994.0 174.9 L995.9 174.2 L994.0 173.1 L996.2 172.4 L994.3 171.2 L996.5 170.5 L994.7 169.4 L996.4 168.7 L995.1 167.6 L997.1 166.9 L995.0 165.8 L997.0 165.0 L995.2 163.9 L997.4 163.2 L995.6 162.0 L997.2 161.4 L995.5 160.2 L997.8 159.7 L996.0 158.4 L998.4 158.0 L996.2 156.6 L998.8 156.2 L997.2 155.0 L998.8 154.4 L996.9 153.1 L999.4 152.7 L997.8 151.4 L999.3 150.8 L999.5 149.6 L998.5 150.9 L1000.1 151.4 L998.5 152.8 L1000.8 153.1 L999.3 154.6 L1001.0 155.0 L999.9 156.3 L1002.2 156.6 L1000.2 158.2 L1002.4 158.5 L1000.9 159.9 L1003.1 160.4 L1001.0 161.7 L1003.0 162.2 L1001.4 163.4 L1003.5 164.0 L1001.9 165.2 L1003.7 165.7 L1002.4 166.9 L1004.2 167.5 L1002.7 168.7 L1004.3 169.3 L1003.2 170.4 L1004.7 171.1 L1003.9 172.2 L1005.0 172.8 L1004.1 174.0 L1005.6 174.5 L1004.9 175.7 L1006.2 176.2 L1005.2 177.5 L1006.7 177.9 L1005.9 179.2 L1007.6 179.5 L1006.7 180.8 L1008.0 181.3 L1006.9 182.6 L1007.4 182.8 L1009.0 182.7 L1008.8 181.3 L1009.1 180.9 L1010.5 181.5 L1009.5 182.8 L1011.0 183.4 L1010.2 184.6 L1011.7 185.2 L1010.5 186.5 L1012.1 187.1 L1011.3 188.3 L1012.8 188.9 L1011.6 190.3 L1013.1 190.8 L1012.1 192.2 L1014.0 192.5 L1013.1 193.8 L1014.7 194.2 L1013.9 195.6 L1015.2 196.1 L1014.4 197.4 L1016.0 197.7 L1015.3 199.1 L1016.8 199.4 L1015.8 200.8 L1017.7 201.1 L1016.9 202.4 L1018.2 202.9 L1017.3 204.2 L1018.8 204.7 L1017.8 206.0 L1019.4 206.4 L1018.6 207.7 L1020.3 208.0 L1020.4 209.4 L1019.5 208.1 L1021.0 207.6 L1019.9 206.3 L1021.6 205.8 L1020.5 204.5 L1022.0 204.0 L1021.4 202.8 L1022.7 202.2 L1021.6 200.9 L1023.3 200.4 L1022.1 199.2 L1023.4 198.5 L1022.6 197.4 L1023.7 196.6 L1022.6 195.5 L1024.0 194.7 L1023.3 193.7 L1024.7 192.9 L1023.4 191.8 L1024.6 191.0 L1023.6 189.9 L1025.3 189.2 L1024.1 188.1 L1025.2 187.3 L1024.3 186.2 L1025.7 185.5 L1024.6 184.3 L1026.4 183.7 L1024.9 182.4 L1026.7 181.9 L1025.7 180.6 L1026.9 179.9 L1025.9 178.7 L1027.1 178.0 L1026.1 176.8 L1027.7 176.2 L1026.9 175.1 L1028.1 174.4 L1027.4 173.0 L1029.0 173.0 L1028.3 171.4 L1030.0 171.4 L1029.5 169.9 L1030.9 169.7 L1030.7 168.4 L1032.3 168.4 L1032.9 166.8 L1031.9 168.4 L1033.5 168.7 L1033.1 170.0 L1034.3 170.5 L1033.8 171.8 L1035.3 172.2 L1034.6 173.5 L1036.1 174.0 L1035.2 175.4 L1036.7 175.8 L1035.8 177.2 L1037.3 177.6 L1036.4 179.0 L1038.2 179.4 L1037.5 180.7 L1038.7 181.2 L1038.0 182.5 L1039.3 182.8 L1039.2 184.4 L1040.8 184.1 L1040.8 185.5 L1042.4 185.2 L1042.3 186.8 L1043.8 186.4 L1043.6 188.2 L1045.3 187.7 L1045.2 189.3 L1046.9 188.8 L1046.6 190.5 L1048.3 190.1 L1048.2 191.6 L1049.6 191.5 L1049.4 193.1 L1050.8 192.9 L1050.8 194.6 L1052.4 194.1 L1052.8 195.7 L1054.3 195.3 L1055.6 197.0 L1055.3 195.2 L1057.0 195.7 L1056.8 193.9 L1058.4 194.3 L1058.1 192.7 L1059.8 192.5 L1059.5 191.0 L1061.2 190.8 L1060.8 189.3 L1062.3 188.8 L1061.2 187.5 L1062.3 186.9 L1061.8 185.8 L1063.2 185.3 L1061.8 184.0 L1063.5 183.5 L1062.5 182.3 L1063.9 181.7 L1063.0 180.2 L1064.8 180.5 L1064.5 179.0 L1065.8 178.8 L1065.5 177.3 L1066.3 177.3 L1067.8 177.3 L1067.3 178.8 L1068.6 179.0 L1068.2 180.4 L1069.8 180.4 L1069.3 181.9 L1070.8 182.1 L1070.4 183.7 L1072.2 183.8 L1073.0 185.4 L1072.5 183.9 L1074.0 183.8 L1073.2 182.1 L1074.9 182.2 L1074.7 180.8 L1076.0 180.6 L1075.6 179.0 L1077.1 179.3 L1077.1 177.8 L1078.5 178.0 L1078.6 176.6 L1080.2 177.0 L1081.0 175.5 L1080.4 177.0 L1081.9 177.2 L1081.3 178.7 L1082.9 178.9 L1082.2 180.4 L1084.3 180.5 L1082.9 181.9 L1084.6 182.4 L1083.7 183.7 L1085.0 184.3 L1084.0 185.6 L1085.6 186.1 L1084.4 187.5 L1085.9 188.1 L1085.1 189.3 L1086.7 189.8 L1085.5 191.1 L1087.1 191.7 L1086.3 192.9 L1087.3 193.5 L1086.6 194.7 L1088.2 195.2 L1086.8 196.5 L1088.3 197.1 L1087.2 198.3 L1088.7 198.9 L1087.8 200.0 L1089.6 200.5 L1088.4 201.7 L1090.0 202.3 L1088.7 203.6 L1090.0 204.0 L1089.8 205.4 L1091.4 205.4 L1091.1 206.8 L1091.4 207.0 L1092.9 206.5 L1091.9 205.2 L1093.5 204.7 L1092.8 203.6 L1094.1 203.0 L1093.4 201.8 L1094.7 201.3 L1093.6 200.0 L1095.3 199.5 L1094.2 198.3 L1095.4 197.6 L1094.7 196.5 L1095.9 195.8 L1095.0 194.6 L1096.4 194.0 L1095.5 192.8 L1096.9 192.2 L1096.1 191.1 L1097.6 190.5 L1096.7 189.1 L1098.1 188.9 L1097.6 187.2 L1099.4 187.3 L1098.9 185.6 L1100.8 185.8 L1100.3 184.1 L1101.8 183.9 L1101.7 182.6 L1103.3 182.5 L1102.9 180.9 L1104.4 180.7 L1103.9 179.2 L1105.3 178.9 L1104.8 177.6 L1106.2 177.2 L1105.6 175.9 L1107.1 175.7 L1106.4 174.4 L1107.6 173.7 L1106.8 172.5 L1108.0 171.8 L1107.3 170.6 L1108.4 169.8 L1107.3 168.6 L1109.0 167.9 L1107.7 166.7 L1108.7 165.9" stroke="#EDB120" stroke-width="2.6" fill="none" stroke-linejoin="round" stroke-linecap="round"/>
<path d="M207.25 347 v-11 M207.25 26 v11 M343.50 347 v-11 M343.50 26 v11 M479.75 347 v-11 M479.75 26 v11 M616.00 347 v-11 M616.00 26 v11 M752.25 347 v-11 M752.25 26 v11 M888.50 347 v-11 M888.50 26 v11 M1024.75 347 v-11 M1024.75 26 v11 M71 79.50 h11 M1161 79.50 h-11 M71 133.00 h11 M1161 133.00 h-11 M71 186.50 h11 M1161 186.50 h-11 M71 240.00 h11 M1161 240.00 h-11 M71 293.50 h11 M1161 293.50 h-11" stroke="#262626" stroke-width="1" fill="none"/>
<rect x="71" y="26" width="1090" height="321" fill="none" stroke="#808080" stroke-width="2"/>
<g font-family="'Liberation Sans', Arial, sans-serif" fill="#262626" font-size="20.3">
<text x="71.00" y="371.8" text-anchor="middle">0</text>
<text x="207.25" y="371.8" text-anchor="middle">0.02</text>
<text x="343.50" y="371.8" text-anchor="middle">0.04</text>
<text x="479.75" y="371.8" text-anchor="middle">0.06</text>
<text x="616.00" y="371.8" text-anchor="middle">0.08</text>
<text x="752.25" y="371.8" text-anchor="middle">0.1</text>
<text x="888.50" y="371.8" text-anchor="middle">0.12</text>
<text x="1024.75" y="371.8" text-anchor="middle">0.14</text>
<text x="1161.00" y="371.8" text-anchor="middle">0.16</text>
<text x="64.3" y="33.30" text-anchor="end">0.3</text>
<text x="64.3" y="86.80" text-anchor="end">0.2</text>
<text x="64.3" y="140.30" text-anchor="end">0.1</text>
<text x="64.3" y="193.80" text-anchor="end">0</text>
<text x="64.3" y="247.30" text-anchor="end">-0.1</text>
<text x="64.3" y="300.80" text-anchor="end">-0.2</text>
<text x="64.3" y="354.30" text-anchor="end">-0.3</text>
<text x="616.4" y="17.4" text-anchor="middle" font-size="22" font-weight="bold">GEN-003-099-0005</text>
<text x="616.3" y="397.7" text-anchor="middle" font-size="22">Time (s)</text>
<text transform="translate(19.2,185.6) rotate(-90)" text-anchor="middle" font-size="22">Amplitude</text>
</g>
</svg>
</body></html>
